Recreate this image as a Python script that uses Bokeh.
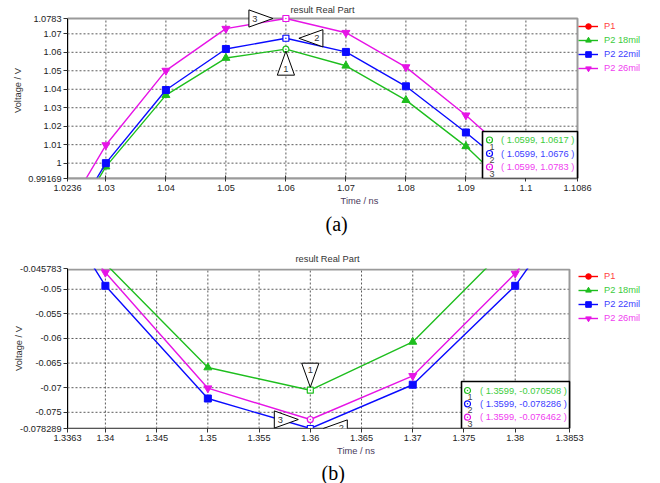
import numpy as np
from bokeh.plotting import figure
from bokeh.models import (FixedTicker, CustomJSTickFormatter, Label, PolyAnnotation,
                          BoxAnnotation, Legend, LegendItem, Range1d, Title)
from bokeh.layouts import column
from bokeh.embed import file_html
from bokeh.resources import INLINE

FONT = "Liberation Sans"

# ---------------- data (a) ----------------
a_time = [1.02, 1.03, 1.04, 1.05, 1.06, 1.07, 1.08, 1.09, 1.10]
a_p2_18 = [0.944, 0.9981, 1.0368, 1.0569, 1.0617, 1.0527, 1.0341, 1.0091, 0.978]
a_p2_22 = [0.946, 1.0000, 1.0396, 1.0618, 1.0676, 1.0602, 1.0416, 1.0166, 0.990]
a_p2_26 = [0.955, 1.0098, 1.0501, 1.0728, 1.0783, 1.0706, 1.0520, 1.0259, 0.997]
a_xticks = [1.0236, 1.03, 1.04, 1.05, 1.06, 1.07, 1.08, 1.09, 1.1, 1.1086]
a_yticks = [0.99169, 1.0, 1.01, 1.02, 1.03, 1.04, 1.05, 1.06, 1.07, 1.0783]
a_marker_t = 1.0599
a_marker_v = [1.0617, 1.0676, 1.0783]
a_marker_idx = 4

# ---------------- data (b) ----------------
b_time = [1.33, 1.34, 1.35, 1.36, 1.37, 1.38, 1.39]
b_p2_18 = [-0.025, -0.0448, -0.0659, -0.070508, -0.0607, -0.0398, -0.020]
b_p2_22 = [-0.016, -0.0493, -0.0722, -0.078286, -0.0694, -0.0493, -0.020]
b_p2_26 = [-0.020, -0.0466, -0.0701, -0.076462, -0.0676, -0.0468, -0.020]
b_xticks = [1.3363, 1.34, 1.345, 1.35, 1.355, 1.36, 1.365, 1.37, 1.375, 1.38, 1.3853]
b_yticks = [-0.078289, -0.075, -0.07, -0.065, -0.06, -0.055, -0.05, -0.045783]
b_marker_t = 1.3599
b_marker_v = [-0.070508, -0.078286, -0.076462]
b_marker_idx = 3

series_names = ["P1", "P2 18mil", "P2 22mil", "P2 26mil"]
line_colors = ["#ff0000", "#1ebe1e", "#0a0aff", "#e614e6"]
text_colors = ["#ff4040", "#3ccc3c", "#4040ff", "#f040f0"]
markers = ["circle", "triangle", "square", "inverted_triangle"]
marker_sizes = [7, 8, 7, 8]

PAGE_X0 = 8      # horizontal page offset of the layout
PAGE_RIGHT = 652


def make_chart(c):
    x0, x1 = c["xticks"][0], c["xticks"][-1]
    y0, y1 = c["yticks"][0], c["yticks"][-1]
    pl, pr, pt, pb = c["plot_box"]          # plot area in page pixels
    sx = (x1 - x0) / (pr - pl)
    sy = (y1 - y0) / (pb - pt)

    def X(px):
        return x0 + (px - pl) * sx

    def Y(py):
        return y0 + (pb - py) * sy

    def PX(x):
        return pl + (x - x0) / sx

    def PY(y):
        return pb - (y - y0) / sy

    ftop, fbot = c["frame_tb"]
    fig_top, H = c["fig_top"], c["H"]
    p = figure(frame_width=PAGE_RIGHT - pl, frame_height=fbot - ftop,
               min_border_left=pl - PAGE_X0, min_border_right=0,
               min_border_top=ftop - fig_top, min_border_bottom=fig_top + H - fbot,
               x_range=Range1d(X(pl), X(PAGE_RIGHT)), y_range=Range1d(Y(fbot), Y(ftop)),
               output_backend="svg", toolbar_location=None,
               background_fill_color="white", border_fill_color="white")
    p.outline_line_color = None
    p.grid.visible = False

    # axes
    for ax in (p.xaxis[0], p.yaxis[0]):
        ax.major_label_text_font = FONT
        ax.major_label_text_font_size = "9.2px"
        ax.major_label_text_color = "#222222"
        ax.formatter = CustomJSTickFormatter(code="return String(tick);")
        ax.major_tick_line_color = "#333333"
        ax.axis_label_text_font = FONT
        ax.axis_label_text_font_size = "9.3px"
        ax.axis_label_text_font_style = "normal"
    p.xaxis.ticker = FixedTicker(ticks=c["xticks"], minor_ticks=[])
    p.yaxis.ticker = FixedTicker(ticks=c["yticks"], minor_ticks=[])
    p.xaxis.bounds = (x0, x1)
    p.yaxis.bounds = (y0, y1)
    p.xaxis.axis_line_color = c["xaxis_color"]
    p.xaxis.axis_line_width = c["xaxis_width"]
    p.xaxis.major_tick_in = c["xtick_in"]
    p.xaxis.major_tick_out = c["xtick_out"]
    p.xaxis.major_label_standoff = c["xlab_standoff"]
    p.xaxis.axis_label = "Time / ns"
    p.xaxis.axis_label_text_color = "#4a3a5c"
    p.xaxis.axis_label_standoff = 2
    p.yaxis.axis_line_color = "black"
    p.yaxis.axis_line_width = 1
    p.yaxis.major_tick_in = 0
    p.yaxis.major_tick_out = 4
    p.yaxis.major_label_standoff = 2
    p.yaxis.axis_label = "Voltage / V"
    p.yaxis.axis_label_text_color = "#333333"
    p.yaxis.axis_label_standoff = c["ylab_standoff"]

    # plot-area border and dotted grid (from the tick lists)
    p.add_layout(BoxAnnotation(left=x0, right=x1, bottom=y0, top=Y(c["border_top"]),
                               fill_alpha=0, line_color="#9a9a9a", line_alpha=1.0,
                               line_width=2, level="underlay"))
    gx = c["xticks"][1:-1]
    gy = c["yticks"][1:-1]
    p.segment(x0=gx, y0=[y0] * len(gx), x1=gx, y1=[y1] * len(gx),
              line_color="#5a5a5a", line_dash="2 2", line_width=1, level="underlay")
    p.segment(x0=[x0] * len(gy), y0=gy, x1=[x1] * len(gy), y1=gy,
              line_color="#5a5a5a", line_dash="2 2", line_width=1, level="underlay")

    # series
    time = c["time"]
    idx = c["midx"]
    legend_rs = []
    for i, name in enumerate(series_names):
        vals = c["series"][i]
        if vals is None:
            # P1 lies outside the visible window: only its legend entry shows
            lr = p.line(x=[np.nan], y=[np.nan], line_color=line_colors[i], line_width=1.4)
            sr = p.scatter(x=[np.nan], y=[np.nan], marker=markers[i], size=marker_sizes[i],
                           fill_color=line_colors[i], line_color=line_colors[i])
        else:
            lr = p.line(x=time, y=vals, line_color=line_colors[i], line_width=1.4)
            mx = [t for j, t in enumerate(time) if j != idx]
            my = [v for j, v in enumerate(vals) if j != idx]
            sr = p.scatter(x=mx, y=my, marker=markers[i], size=marker_sizes[i],
                           fill_color=line_colors[i], line_color=line_colors[i])
            p.scatter(x=[time[idx]], y=[vals[idx]], marker=c["mpt"][i - 1], size=6,
                      fill_color="white", line_color=line_colors[i], line_width=1.2)
        legend_rs.append((lr, sr))

    lx, lcy, lstep = c["legend"]
    for i, name in enumerate(series_names):
        cy = lcy + lstep * i
        leg = Legend(items=[LegendItem(label=name, renderers=list(legend_rs[i]))],
                     location=(lx - pl, fbot - (cy + 7)),
                     glyph_width=20, glyph_height=14, label_height=14, label_standoff=6,
                     padding=0, margin=0, spacing=0, border_line_color=None,
                     background_fill_alpha=0, label_text_font=FONT,
                     label_text_font_size="9.3px", label_text_color=text_colors[i])
        p.add_layout(leg, "center")

    # marker triangles
    L, Hh = 24, 8.6
    for k, (direc, off) in enumerate(c["tris"]):
        vals = c["series"][k + 1]
        px, py = PX(time[idx]), PY(vals[idx])
        if direc == "up":
            pts = [(px, py + off), (px - Hh, py + off + L), (px + Hh, py + off + L)]
            tx, ty = px, py + off + L - 6.5
        elif direc == "down":
            pts = [(px, py - off), (px - Hh, py - off - L), (px + Hh, py - off - L)]
            tx, ty = px, py - off - L + 6.5
        elif direc == "left":
            pts = [(px + off, py), (px + off + L, py - Hh), (px + off + L, py + Hh)]
            tx, ty = px + off + L - 6, py
        else:
            pts = [(px - off, py), (px - off - L, py - Hh), (px - off - L, py + Hh)]
            tx, ty = px - off - L + 6, py
        p.add_layout(PolyAnnotation(xs=[X(a) for a, b in pts], ys=[Y(b) for a, b in pts],
                                    xs_units="data", ys_units="data",
                                    fill_color="white", fill_alpha=1.0,
                                    line_color="black", line_alpha=1.0, line_width=1))
        p.add_layout(Label(x=X(tx), y=Y(ty), text=str(k + 1), text_font=FONT,
                           text_font_size="9.3px", text_color="#333333",
                           text_align="center", text_baseline="middle"))

    # marker info box
    bx, by = c["box"]
    p.add_layout(BoxAnnotation(left=X(bx), right=x1, top=Y(by), bottom=y0,
                               fill_color="white", fill_alpha=1.0,
                               line_color="black", line_alpha=1.0, line_width=1.6))
    for k in range(3):
        ry = c["box_rows"][k]
        icon = p.scatter(x=[X(c["icon_x"])], y=[Y(ry)], marker="circle_dot", size=6,
                         fill_color="white", line_color=line_colors[k + 1], line_width=1.2)
        icon.level = "overlay"
        p.add_layout(Label(x=X(c["icon_x"] + 2.5), y=Y(ry + 6.5), text=str(k + 1),
                           text_font=FONT, text_font_size="9px", text_color="#444444",
                           text_align="center", text_baseline="middle", level="overlay"))
        txt = "( %s, %s )" % (repr(c["mt"]), repr(c["mv"][k]))
        p.add_layout(Label(x=X(c["text_x"]), y=Y(ry), text=txt, text_font=FONT,
                           text_font_size="9.3px", text_color=text_colors[k + 1],
                           text_align="left", text_baseline="middle", level="overlay"))

    # chart title
    if c["title_in_frame"]:
        tx_, ty_ = c["title_pos"]
        p.add_layout(Label(x=X(tx_), y=Y(ty_), text="result Real Part", text_font=FONT,
                           text_font_size="9.3px", text_color="#333333",
                           text_align="center", text_baseline="middle"))
    else:
        p.add_layout(Title(text="result Real Part", align="left", offset=c["title_offset"],
                           standoff=c["title_standoff"], text_font=FONT,
                           text_font_size="9.3px", text_font_style="normal",
                           text_color="#333333"), "above")
    # caption
    p.add_layout(Title(text=c["caption"], align="left", offset=c["cap_offset"],
                       standoff=c["cap_standoff"], text_font="Liberation Serif",
                       text_font_size="20px", text_font_style="normal",
                       text_color="black"), "below")
    return p


cfg_a = dict(fig_top=0, H=244, plot_box=(68, 578, 18, 178), frame_tb=(2, 178),
             border_top=18,
             xticks=a_xticks, yticks=a_yticks, time=a_time,
             series=[None, a_p2_18, a_p2_22, a_p2_26], midx=a_marker_idx,
             mpt=["circle_dot", "square_dot", "square_dot"],
             xaxis_color="#9a9a9a", xaxis_width=2, xtick_in=3, xtick_out=3,
             xlab_standoff=3, ylab_standoff=2,
             legend=(588, 26, 14.1),
             tris=[("up", 2), ("left", 13), ("right", 13)],
             box=(483, 131), box_rows=[139.5, 153, 166.5], icon_x=490, text_x=501.5,
             mt=a_marker_t, mv=a_marker_v,
             title_in_frame=True, title_pos=(323, 9),
             caption="(a)", cap_offset=258, cap_standoff=4)

cfg_b = dict(fig_top=244, H=237, plot_box=(75, 577, 268, 428), frame_tb=(268, 428),
             border_top=269,
             xticks=b_xticks, yticks=b_yticks, time=b_time,
             series=[None, b_p2_18, b_p2_22, b_p2_26], midx=b_marker_idx,
             mpt=["square_dot", "square_dot", "circle_dot"],
             xaxis_color="#555555", xaxis_width=1, xtick_in=0, xtick_out=4,
             xlab_standoff=2, ylab_standoff=-7,
             legend=(586, 275.7, 14),
             tris=[("down", 3), ("left", 13), ("right", 12)],
             box=(469, 381), box_rows=[390, 403.3, 416.7], icon_x=475, text_x=487.5,
             mt=b_marker_t, mv=b_marker_v,
             title_in_frame=False, title_offset=228, title_standoff=10,
             caption="(b)", cap_offset=254, cap_standoff=2)

pa = make_chart(cfg_a)
pb = make_chart(cfg_b)
layout = column(pa, pb, spacing=0)

with open("out.html", "w") as f:
    f.write(file_html(layout, INLINE))
